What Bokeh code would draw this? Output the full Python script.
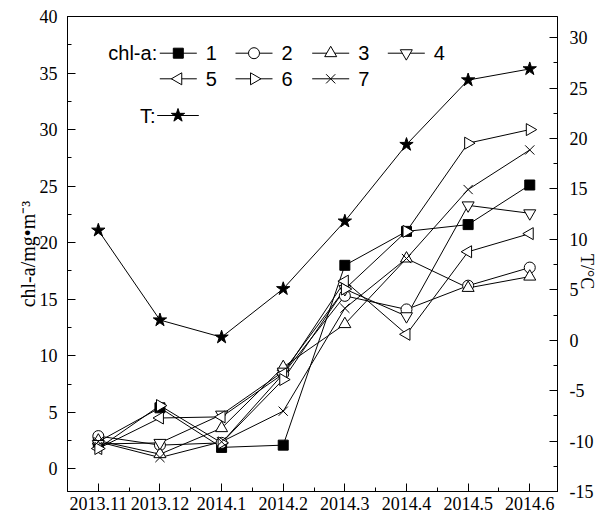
import math
from bokeh.plotting import figure
from bokeh.models import (Range1d, LinearAxis, FixedTicker, SingleIntervalTicker, Label)
from bokeh.embed import file_html
from bokeh.resources import INLINE

months = ["2013.11", "2013.12", "2014.1", "2014.2", "2014.3", "2014.4", "2014.5", "2014.6"]
s1 = [2.4, 5.4, 1.9, 2.1, 18.0, 21.0, 21.6, 25.1]
s2 = [2.9, 2.1, 2.3, 8.4, 15.3, 14.1, 16.2, 17.8]
s3 = [2.5, 1.3, 3.6, 9.0, 12.8, 18.6, 16.0, 17.0]
s4 = [2.2, 2.3, 4.8, 8.6, 15.9, 13.5, 23.3, 22.6]
s5 = [1.8, 4.5, 4.6, 8.4, 16.6, 11.9, 19.2, 20.8]
s6 = [1.8, 5.6, 2.3, 7.9, 15.9, 21.0, 28.8, 30.0]
s7 = [2.4, 1.0, 2.4, 5.1, 14.2, 18.6, 24.7, 28.2]
temp = [10.9, 2.0, 0.3, 5.1, 11.8, 19.4, 25.8, 26.9]
series_names = ["1", "2", "3", "4", "5", "6", "7"]
right_ticks = [-15, -10, -5, 0, 5, 10, 15, 20, 25, 30]

SERIF = "Liberation Serif"
SANS = "Liberation Sans"

W, H = 610, 517
BL, BR, BT, BB = 67, 53, 16, 26
X0, X1 = -0.5, 7.45
Y0, Y1 = -2, 40
T0, T1 = -15, 32.1

xs = list(range(len(months)))

p = figure(width=W, height=H, output_backend="svg", toolbar_location=None,
           x_range=Range1d(X0, X1), y_range=Range1d(Y0, Y1),
           min_border_left=BL, min_border_right=BR, min_border_top=BT, min_border_bottom=BB)
p.extra_y_ranges = {"T": Range1d(T0, T1)}
p.grid.visible = False
p.outline_line_color = "black"
p.outline_line_width = 1
p.background_fill_color = "white"
p.border_fill_color = "white"

# layout helpers: screen pixel -> data coordinate (for legend placement only)
FL, FR, FT, FB = BL, W - BR, BT, H - BB
def sx2x(sx):
    return X0 + (sx - FL) / (FR - FL) * (X1 - X0)
def sy2y(sy):
    return Y0 + (FB - sy) / (FB - FT) * (Y1 - Y0)

def style_axis(ax):
    ax.axis_line_color = "black"
    ax.major_tick_line_color = "black"
    ax.minor_tick_line_color = "black"
    ax.major_tick_out = 0
    ax.major_tick_in = 8
    ax.minor_tick_out = 0
    ax.minor_tick_in = 4
    ax.major_label_text_font = SERIF
    ax.major_label_text_font_size = "18px"
    ax.major_label_text_color = "black"
    ax.axis_label_text_font = SERIF
    ax.axis_label_text_font_size = "20px"
    ax.axis_label_text_font_style = "normal"
    ax.axis_label_text_color = "black"

xa = p.xaxis[0]
xa.ticker = FixedTicker(ticks=xs, minor_ticks=[i + 0.5 for i in range(7)])
xa.major_label_overrides = {i: m for i, m in enumerate(months)}
xa.major_label_standoff = 5
style_axis(xa)

ya = p.yaxis[0]
ya.ticker = SingleIntervalTicker(interval=5, num_minor_ticks=2)
ya.major_label_standoff = 10
style_axis(ya)
ya.axis_label = "chl-a/mg\u2022m\u207b\u00b3"
ya.axis_label_standoff = -2

ra = LinearAxis(y_range_name="T", ticker=SingleIntervalTicker(interval=5, num_minor_ticks=2))
style_axis(ra)
ra.major_label_standoff = 12
ra.major_label_overrides = {t: str(t) for t in right_ticks}
ra.axis_label = "T/\u00b0C"
ra.axis_label_text_font_size = "18px"
ra.axis_label_orientation = -math.pi / 2
ra.axis_label_standoff = -9
p.add_layout(ra, "right")

marker_specs = [
    dict(marker="square", size=10, fill_color="black", angle=0),
    dict(marker="circle", size=11, fill_color="white", angle=0),
    dict(marker="triangle", size=12, fill_color="white", angle=0),
    dict(marker="inverted_triangle", size=12, fill_color="white", angle=0),
    dict(marker="triangle", size=12, fill_color="white", angle=math.pi / 2),
    dict(marker="triangle", size=12, fill_color="white", angle=-math.pi / 2),
    dict(marker="x", size=13, fill_color="white", angle=0),
]
all_series = [s1, s2, s3, s4, s5, s6, s7]

for s in all_series:
    p.line(xs, s, line_color="black", line_width=1)
p.line(xs, temp, line_color="black", line_width=1, y_range_name="T")

for s, spec in zip(all_series, marker_specs):
    p.scatter(xs, s, marker=spec["marker"], size=spec["size"],
              fill_color=spec["fill_color"], line_color="black",
              line_width=1, angle=spec["angle"])
p.scatter(xs, temp, marker="star", size=14, fill_color="black",
          line_color="black", y_range_name="T")

# ---- manual legend (layout in screen pixels) ----
leg_rows = [52.7, 52.7, 52.7, 52.7, 78.3, 78.3, 78.3]
leg_starts = [159.3, 235.0, 311.7, 387.3, 159.3, 235.0, 311.7]
GLYPH_W = 37
for name, spec, ry, st in zip(series_names, marker_specs, leg_rows, leg_starts):
    yy = sy2y(ry)
    p.segment(x0=[sx2x(st)], y0=[yy], x1=[sx2x(st + GLYPH_W)], y1=[yy],
              line_color="black", line_width=1)
    p.scatter(x=[sx2x(st + GLYPH_W / 2)], y=[yy], marker=spec["marker"], size=spec["size"],
              fill_color=spec["fill_color"], line_color="black", line_width=1,
              angle=spec["angle"])
    p.add_layout(Label(x=sx2x(st + GLYPH_W + 9), y=yy, text=name, text_font=SANS,
                       text_font_size="20px", text_align="left", text_baseline="middle",
                       text_color="black"))

t_row = 115.0
t_start, t_w = 156.7, 41.6
p.segment(x0=[sx2x(t_start)], y0=[sy2y(t_row)], x1=[sx2x(t_start + t_w)], y1=[sy2y(t_row)],
          line_color="black", line_width=1)
p.scatter(x=[sx2x(t_start + t_w / 2)], y=[sy2y(t_row)], marker="star", size=14,
          fill_color="black", line_color="black")

p.add_layout(Label(x=sx2x(156.7), y=sy2y(52.7), text="chl-a:", text_font=SANS,
                   text_font_size="20px", text_align="right", text_baseline="middle",
                   text_color="black"))
p.add_layout(Label(x=sx2x(155.0), y=sy2y(t_row), text="T:", text_font=SANS,
                   text_font_size="20px", text_align="right", text_baseline="middle",
                   text_color="black"))

open("out.html", "w").write(file_html(p, INLINE))
